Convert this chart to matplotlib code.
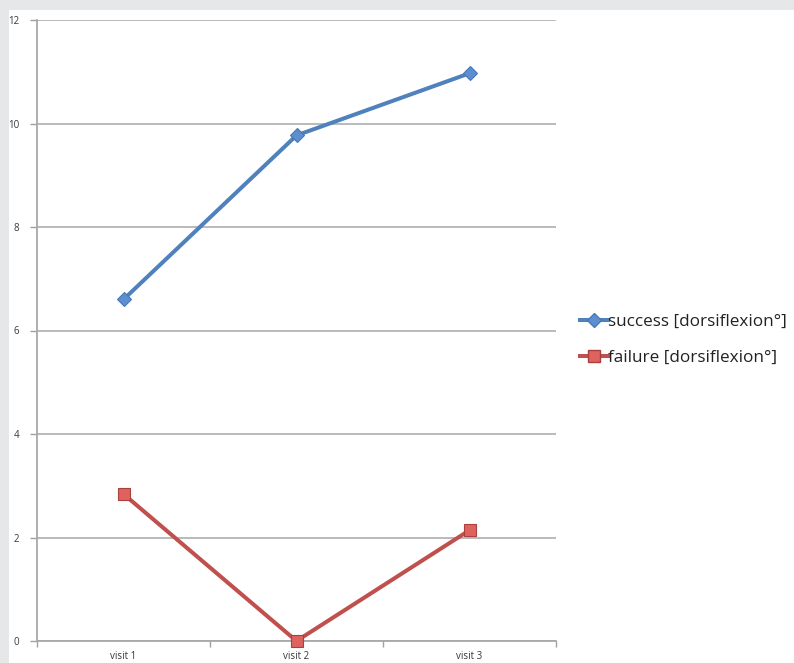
import matplotlib
matplotlib.use("Agg")
import matplotlib.pyplot as plt
from matplotlib.patches import Rectangle
from matplotlib.lines import Line2D

visits = ["visit 1", "visit 2", "visit 3"]
success = [6.6, 9.77, 10.97]
failure = [2.84, 0.0, 2.14]
series_labels = ["success [dorsiflexion°]", "failure [dorsiflexion°]"]
y_ticks = [0, 2, 4, 6, 8, 10, 12]

W, H = 794, 663
fig = plt.figure(figsize=(W / 100, H / 100), dpi=100)
fig.patch.set_facecolor("white")

# light grey frame strips along the top and left edges
band = "#e6e7e8"
fig.patches.append(Rectangle((0, 1 - 10 / H), 1, 10 / H, transform=fig.transFigure,
                             facecolor=band, edgecolor="none", zorder=0))
fig.patches.append(Rectangle((0, 0), 9 / W, 1, transform=fig.transFigure,
                             facecolor=band, edgecolor="none", zorder=0))

left, right, bottom, top = 37, 556, 641, 20
ax = fig.add_axes([left / W, (H - bottom) / H, (right - left) / W, (bottom - top) / H])
ax.set_facecolor("none")

x = list(range(len(visits)))
blue, red = "#4f81bd", "#c0504d"
ax.plot(x, success, color=blue, lw=2.9, marker="D", ms=7.5,
        mfc="#5b8fd0", mec="#4a78b5", mew=0.8, zorder=4, clip_on=False)
ax.plot(x, failure, color=red, lw=2.9, marker="s", ms=9,
        mfc="#e0625e", mec="#a8403d", mew=0.8, zorder=4, clip_on=False)

ax.set_xlim(-0.5, 2.5)
ax.set_ylim(0, 12)
ax.set_yticks(y_ticks)
ax.set_yticklabels([str(v) for v in y_ticks], fontsize=7, color="#383838",
                   family="Open Sans")
ax.yaxis.grid(True, color="#b4b4b4", lw=1.3)
ax.set_axisbelow(True)

ax.set_xticks([-0.5, 0.5, 1.5, 2.5])
ax.set_xticklabels([])
ax.set_xticks(x, minor=True)
ax.set_xticklabels(visits, minor=True, fontsize=7, color="#383838", family="Open Sans")
ax.tick_params(axis="x", which="minor", length=0, pad=7)
ax.tick_params(axis="x", which="major", length=4, color="#a0a0a0", width=1)
ax.tick_params(axis="y", length=5, color="#a0a0a0", width=1, pad=8)

for side in ("top", "right"):
    ax.spines[side].set_visible(False)
for side in ("left", "bottom"):
    ax.spines[side].set_color("#a8a8a8")
    ax.spines[side].set_linewidth(1.3)

handles = [
    Line2D([], [], color=blue, lw=2.9, marker="D", ms=7, mfc="#5b8fd0", mec="#4a78b5"),
    Line2D([], [], color=red, lw=2.9, marker="s", ms=8, mfc="#e0625e", mec="#a8403d"),
]
fig.legend(handles, series_labels, loc="center left",
           bbox_to_anchor=(565 / W, 1 - 340 / H), frameon=False,
           handlelength=1.6, handletextpad=0.0, labelspacing=1.15,
           prop={"family": "Open Sans", "size": 12.3}, labelcolor="#222222")

fig.savefig("out.png", dpi=100, facecolor=fig.get_facecolor())
